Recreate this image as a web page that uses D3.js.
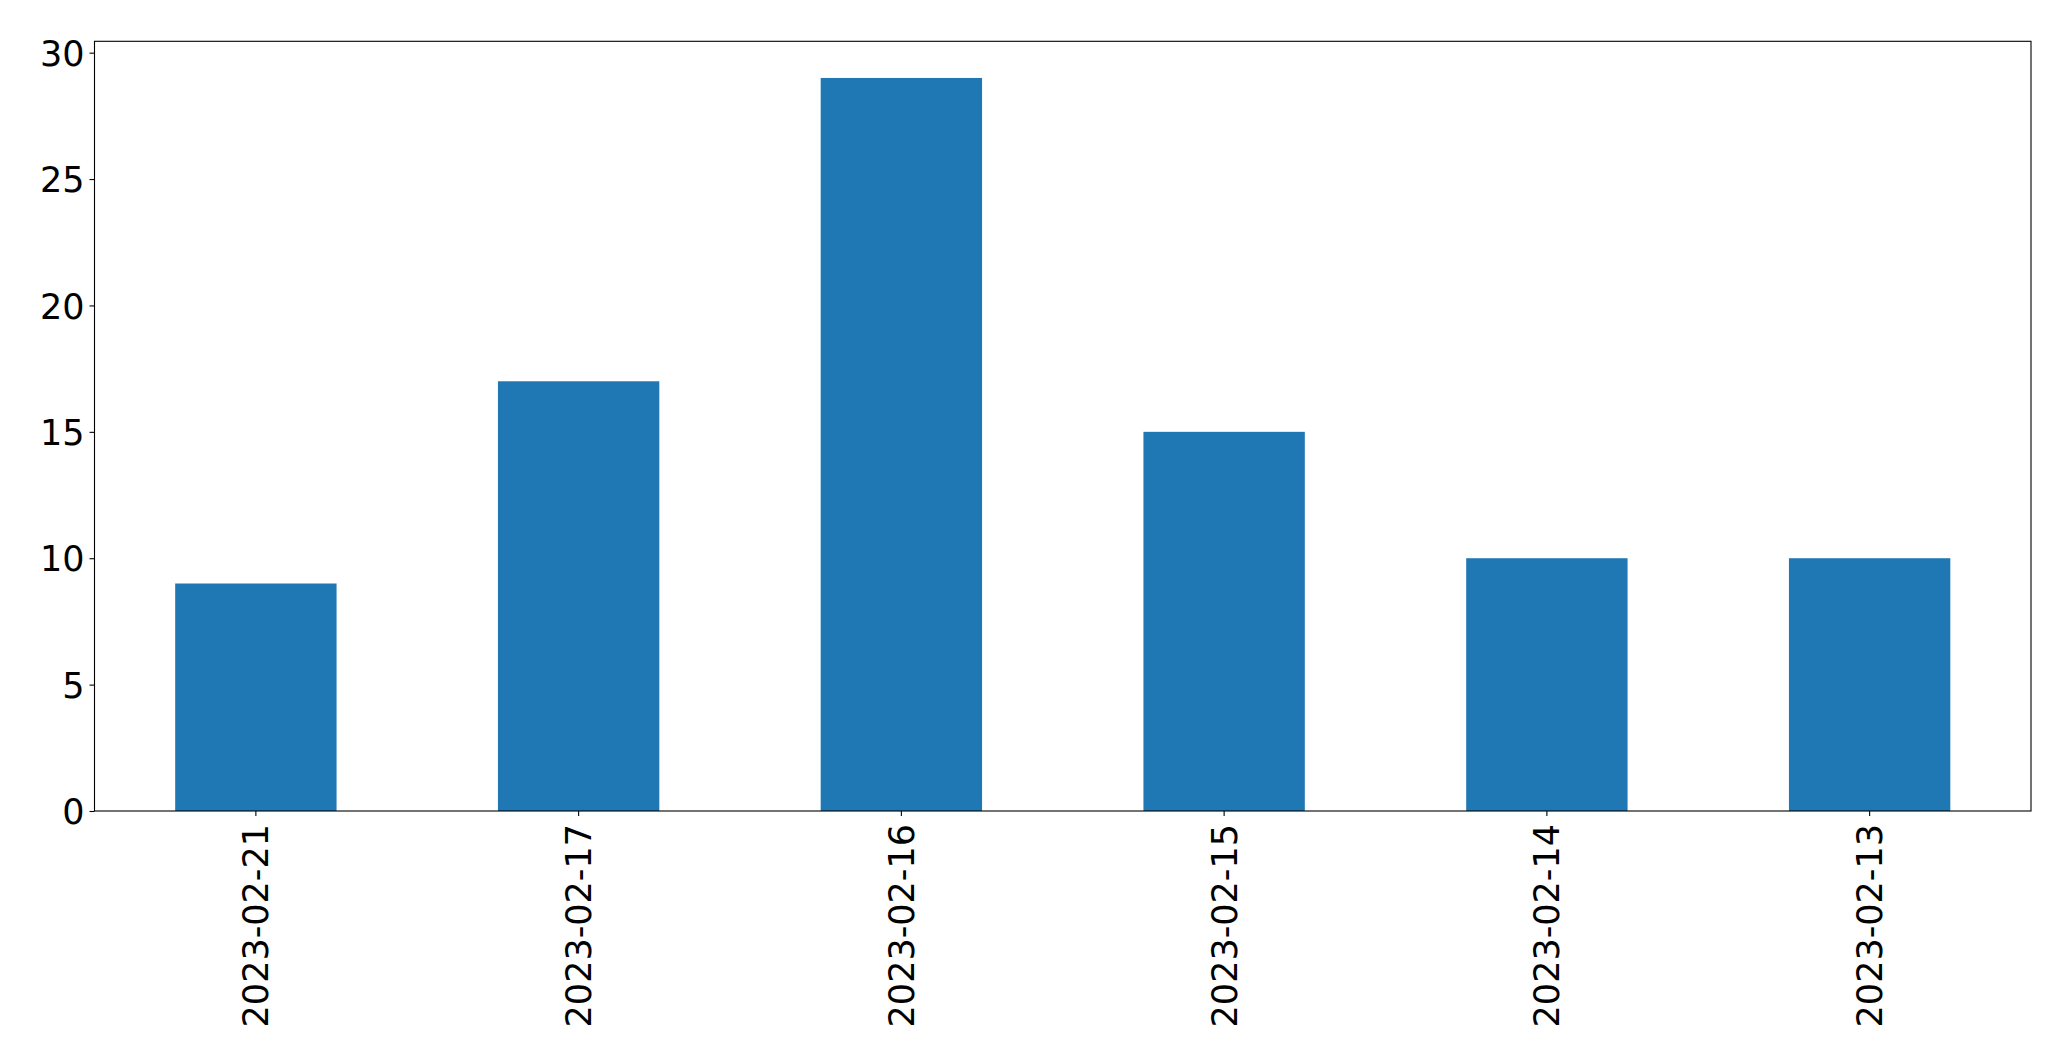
<!DOCTYPE html>
<html>
<head>
<meta charset="utf-8">
<script src="https://cdn.jsdelivr.net/npm/d3@7"></script>
<style>
  html, body { margin: 0; padding: 0; background: #fff; }
  svg { display: block; }
  text { font-family: "DejaVu Sans", sans-serif; fill: #000; }
</style>
</head>
<body>
<script>
const categories = ["2023-02-21", "2023-02-17", "2023-02-16", "2023-02-15", "2023-02-14", "2023-02-13"];
const values = [9, 17, 29, 15, 10, 10];
const yTicks = [0, 5, 10, 15, 20, 25, 30];

const W = 2071, H = 1063;
const mLeft = 94.5, mRight = 2031, mTop = 41.3, mBottom = 811;
const fontSize = 35;

const svg = d3.select("body").append("svg").attr("width", W).attr("height", H);

const x = d3.scaleBand().domain(categories).range([mLeft, mRight]).paddingInner(0.5).paddingOuter(0.25);
const y = d3.scaleLinear().domain([0, d3.max(values) * 1.05]).range([mBottom, mTop]);

svg.append("g").selectAll("rect").data(values).join("rect")
  .attr("x", (d, i) => x(categories[i]))
  .attr("width", x.bandwidth())
  .attr("y", d => y(d))
  .attr("height", d => y(0) - y(d))
  .attr("fill", "#1f77b4");

// Y axis
const yAxis = svg.append("g").attr("transform", `translate(${mLeft},0)`)
  .call(d3.axisLeft(y).tickValues(yTicks).tickSize(5).tickPadding(5).tickFormat(d3.format("d")));
yAxis.select(".domain").remove();
yAxis.selectAll(".tick line").attr("stroke", "#000").attr("stroke-width", 1.1);
yAxis.selectAll(".tick text").attr("font-size", fontSize).attr("font-family", "DejaVu Sans").attr("dy", "0.36em");

// X axis
const xAxis = svg.append("g").attr("transform", `translate(0,${mBottom})`)
  .call(d3.axisBottom(x).tickSize(5).tickPadding(0));
xAxis.select(".domain").remove();
xAxis.selectAll(".tick line").attr("stroke", "#000").attr("stroke-width", 1.1);
xAxis.selectAll(".tick text")
  .attr("font-size", fontSize).attr("font-family", "DejaVu Sans")
  .attr("text-anchor", "end")
  .attr("transform", "translate(0,13) rotate(-90)")
  .attr("x", 0).attr("y", 0).attr("dy", "0.36em");

// Frame
svg.append("rect").attr("x", mLeft).attr("y", mTop)
  .attr("width", mRight - mLeft).attr("height", mBottom - mTop)
  .attr("fill", "none").attr("stroke", "#000").attr("stroke-width", 1.1);
</script>
</body>
</html>
